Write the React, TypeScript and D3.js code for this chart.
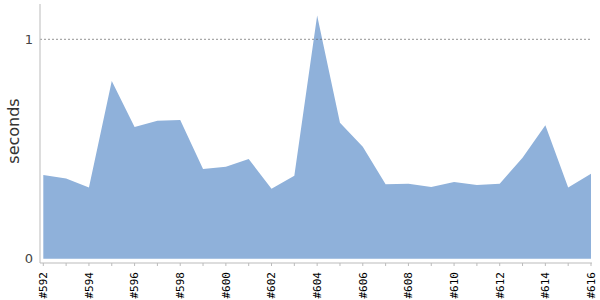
import React from "react";
import * as d3 from "d3";

const categories: string[] = [
  "#592", "#593", "#594", "#595", "#596", "#597", "#598", "#599", "#600",
  "#601", "#602", "#603", "#604", "#605", "#606", "#607", "#608", "#609",
  "#610", "#611", "#612", "#613", "#614", "#615", "#616",
];
const seconds: number[] = [
  0.381, 0.366, 0.324, 0.81, 0.6, 0.629, 0.632, 0.409, 0.419, 0.454, 0.319,
  0.378, 1.108, 0.62, 0.51, 0.339, 0.342, 0.327, 0.35, 0.336, 0.342, 0.46,
  0.608, 0.324, 0.387,
];
const yTicks: number[] = [0, 1];
const refLine = 1;
const yLabel = "seconds";

const W = 600;
const H = 300;
const axisX = 40;
const axisY = 263;

export default function App() {
  const x = d3
    .scalePoint<string>()
    .domain(categories)
    .range([43.3, 591]);
  const y = d3.scaleLinear().domain([0, 1]).range([258.7, 39.3]);
  const area = d3
    .area<number>()
    .x((_, i) => x(categories[i]) as number)
    .y0(y(0))
    .y1((d) => y(d));

  return (
    <svg
      width={W}
      height={H}
      style={{ position: "absolute", left: 0, top: 0, fontFamily: "DejaVu Sans" }}
    >
      <path d={area(seconds) || ""} fill="#8fb1da" />
      <line
        x1={axisX}
        x2={591}
        y1={y(refLine)}
        y2={y(refLine)}
        stroke="#666"
        strokeWidth={0.7}
        strokeDasharray="2,2"
      />
      <line x1={axisX} x2={axisX} y1={4} y2={axisY} stroke="#bbb" strokeWidth={1} />
      <line x1={axisX} x2={592} y1={axisY} y2={axisY} stroke="#bbb" strokeWidth={1} />
      {yTicks.map((t) => (
        <text
          key={t}
          x={33}
          y={y(t)}
          dy="0.35em"
          textAnchor="end"
          fontSize={13}
          fill="#444"
        >
          {t}
        </text>
      ))}
      {categories.map((c, i) => (
        <g key={c} transform={`translate(${x(c)},${axisY})`}>
          <line y1={0} y2={3} stroke="#bbb" />
          {i % 2 === 0 && (
            <text
              transform="rotate(-90)"
              x={-9}
              dy="0.35em"
              textAnchor="end"
              fontSize={11}
              fontFamily="DejaVu Sans Mono"
              fill="#000"
            >
              {c}
            </text>
          )}
        </g>
      ))}
      <text
        transform={`translate(13,131) rotate(-90)`}
        textAnchor="middle"
        dy="0.35em"
        fontSize={16}
        fill="#333"
      >
        {yLabel}
      </text>
    </svg>
  );
}
